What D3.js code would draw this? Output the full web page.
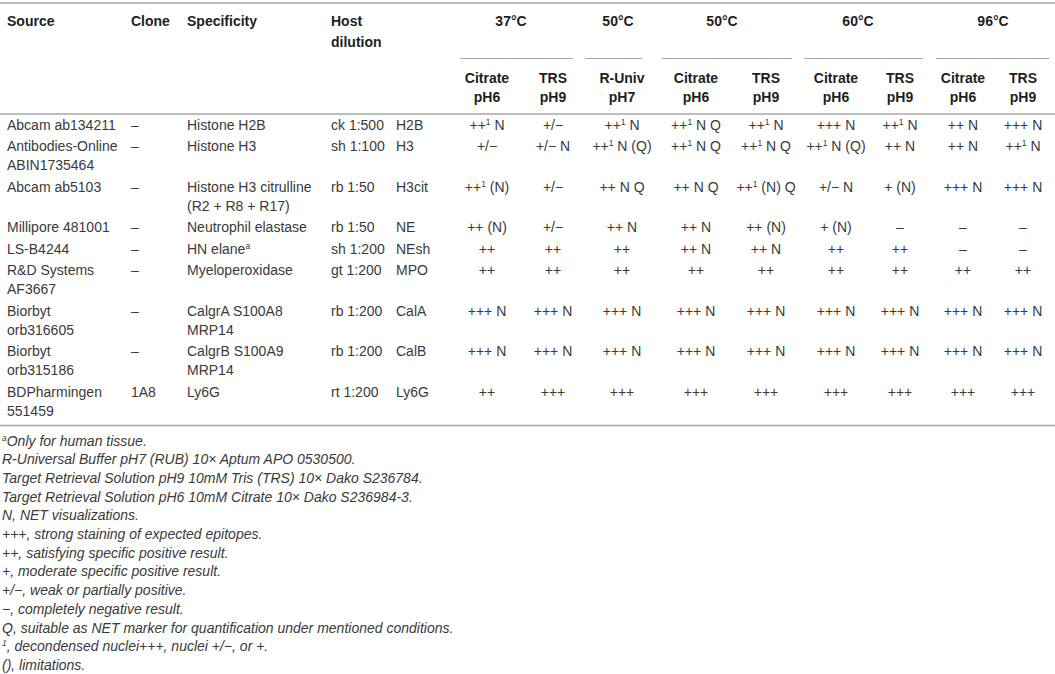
<!DOCTYPE html>
<html>
<head>
<meta charset="utf-8">
<script src="https://cdn.jsdelivr.net/npm/d3@7"></script>
<style>
  body { margin: 0; background: #fff; }
  text { font-family: "Liberation Sans", Arial, sans-serif; font-size: 14px; }
</style>
</head>
<body>
<svg id="tbl" width="1055" height="674"></svg>
<script>
// ---- table content ----
const sources = [
  ["Abcam ab134211"], ["Antibodies-Online", "ABIN1735464"], ["Abcam ab5103"],
  ["Millipore 481001"], ["LS-B4244"], ["R&D Systems", "AF3667"],
  ["Biorbyt", "orb316605"], ["Biorbyt", "orb315186"], ["BDPharmingen", "551459"]
];
const clones = ["–", "–", "–", "–", "–", "–", "–", "–", "1A8"];
const specificity = [
  ["Histone H2B"], ["Histone H3"], ["Histone H3 citrulline", "(R2 + R8 + R17)"],
  ["Neutrophil elastase"], ["HN elane^a"], ["Myeloperoxidase"],
  ["CalgrA S100A8", "MRP14"], ["CalgrB S100A9", "MRP14"], ["Ly6G"]
];
const hosts = ["ck 1:500", "sh 1:100", "rb 1:50", "rb 1:50", "sh 1:200", "gt 1:200", "rb 1:200", "rb 1:200", "rt 1:200"];
const markers = ["H2B", "H3", "H3cit", "NE", "NEsh", "MPO", "CalA", "CalB", "Ly6G"];

const temps = ["37°C", "50°C", "50°C", "60°C", "96°C"];
const buffers = [
  ["Citrate", "pH6"], ["TRS", "pH9"], ["R-Univ", "pH7"], ["Citrate", "pH6"], ["TRS", "pH9"],
  ["Citrate", "pH6"], ["TRS", "pH9"], ["Citrate", "pH6"], ["TRS", "pH9"]
];

const results = [
  ["++^1 N", "+/−", "++^1 N", "++^1 N Q", "++^1 N", "+++ N", "++^1 N", "++ N", "+++ N"],
  ["+/−", "+/− N", "++^1 N (Q)", "++^1 N Q", "++^1 N Q", "++^1 N (Q)", "++ N", "++ N", "++^1 N"],
  ["++^1 (N)", "+/−", "++ N Q", "++ N Q", "++^1 (N) Q", "+/− N", "+ (N)", "+++ N", "+++ N"],
  ["++ (N)", "+/−", "++ N", "++ N", "++ (N)", "+ (N)", "–", "–", "–"],
  ["++", "++", "++", "++ N", "++ N", "++", "++", "–", "–"],
  ["++", "++", "++", "++", "++", "++", "++", "++", "++"],
  ["+++ N", "+++ N", "+++ N", "+++ N", "+++ N", "+++ N", "+++ N", "+++ N", "+++ N"],
  ["+++ N", "+++ N", "+++ N", "+++ N", "+++ N", "+++ N", "+++ N", "+++ N", "+++ N"],
  ["++", "+++", "+++", "+++", "+++", "+++", "+++", "+++", "+++"]
];

const footnotes = [
  "^aOnly for human tissue.",
  "R-Universal Buffer pH7 (RUB) 10× Aptum APO 0530500.",
  "Target Retrieval Solution pH9 10mM Tris (TRS) 10× Dako S236784.",
  "Target Retrieval Solution pH6 10mM Citrate 10× Dako S236984-3.",
  "N, NET visualizations.",
  "+++, strong staining of expected epitopes.",
  "++, satisfying specific positive result.",
  "+, moderate specific positive result.",
  "+/−, weak or partially positive.",
  "−, completely negative result.",
  "Q, suitable as NET marker for quantification under mentioned conditions.",
  "^1, decondensed nuclei+++, nuclei +/−, or +.",
  "(), limitations."
];

// ---- layout ----
const W = 1055;
const lineH = 19, rowPad = 2.5;
const base = 5; // centre line -> baseline
const textCol = "#3a3a3a", headCol = "#1e1e1e", ruleCol = "#a8a8a8";

const leftX = { source: 7, clone: 131, spec: 187, host: 331, marker: 396 };
const colX = d3.scaleOrdinal().domain(d3.range(9))
  .range([487, 553, 622, 696, 766, 836, 900, 963, 1023]);
const groupExtent = [[460, 573], [585, 642], [662, 792], [804, 923], [936, 1049]];
const groupLabelX = [511, 618, 722, 858, 993];

const svg = d3.select("#tbl");

// write a string with ^x superscripts into a text node
function fill(sel, str) {
  const parts = str.split(/\^(\w)/);
  let back = 0; // pending baseline return after a superscript
  parts.forEach((p, i) => {
    if (p === "") return;
    if (i % 2 === 1) {
      sel.append("tspan").attr("dy", -5).attr("font-size", 8.5).text(p);
      back = 5;
    } else {
      const t = sel.append("tspan").text(p);
      if (back) { t.attr("dy", back); back = 0; }
    }
  });
}

function rule(y, x1, x2, w) {
  svg.append("line").attr("x1", x1).attr("x2", x2).attr("y1", y).attr("y2", y)
    .attr("stroke", ruleCol).attr("stroke-width", w || 1.3);
}

// header
rule(3, 0, W, 1.5);
const head = svg.append("g").attr("fill", headCol);
const headY = 21, headY2 = 41.5;
[["Source", leftX.source], ["Clone", leftX.clone], ["Specificity", leftX.spec], ["Host", leftX.host]]
  .forEach(([t, x]) => head.append("text").attr("x", x).attr("y", headY + base).style("font-weight", "bold").text(t));
head.append("text").attr("x", leftX.host).attr("y", headY2 + base).style("font-weight", "bold").text("dilution");

head.selectAll(".temp").data(temps).join("text")
  .attr("class", "temp")
  .attr("x", (d, i) => groupLabelX[i]).attr("y", headY + base)
  .attr("text-anchor", "middle").style("font-weight", "bold").text(d => d);

groupExtent.forEach(([a, b]) => rule(58.5, a, b, 1.2));

const subY = [77.5, 96.5];
buffers.forEach((b, i) => {
  b.forEach((t, k) => head.append("text").attr("x", colX(i)).attr("y", subY[k] + base)
    .attr("text-anchor", "middle").style("font-weight", "bold").text(t));
});
rule(114, 0, W, 1.5);

// body rows
const rowLines = sources.map((s, i) => Math.max(s.length, specificity[i].length));
const rowY = [];
let y = 124.5;
rowLines.forEach(n => { rowY.push(y); y += n * lineH + rowPad; });

const body = svg.append("g").attr("fill", textCol);
rowY.forEach((ry, r) => {
  const cellLines = (x, lines, anchor) => lines.forEach((t, k) => {
    const tx = body.append("text").attr("x", x).attr("y", ry + k * lineH + base)
      .attr("text-anchor", anchor || "start");
    fill(tx, t);
  });
  cellLines(leftX.source, sources[r]);
  cellLines(leftX.clone, [clones[r]]);
  cellLines(leftX.spec, specificity[r]);
  cellLines(leftX.host, [hosts[r]]);
  cellLines(leftX.marker, [markers[r]]);
  results[r].forEach((v, c) => cellLines(colX(c), [v], "middle"));
});

rule(425.5, 0, W, 1.5);

// footnotes
const notes = svg.append("g").attr("fill", textCol).attr("font-style", "italic");
footnotes.forEach((f, i) => {
  const t = notes.append("text").attr("x", 2).attr("y", 440.5 + i * 18.7 + base);
  fill(t, f);
});
</script>
</body>
</html>
